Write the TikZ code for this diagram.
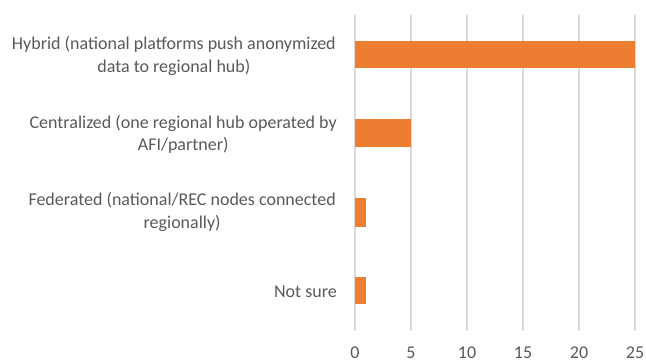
\documentclass[tikz,border=0pt]{standalone}
\usepackage{fontspec}
\setmainfont{Carlito}
\definecolor{barc}{HTML}{ED7D31}
\definecolor{gridc}{HTML}{D9D9D9}
\definecolor{txtc}{HTML}{595959}
\begin{document}
\begin{tikzpicture}[x=1pt,y=-1pt,
  bar/.style={fill=barc,draw=none},
  gridline/.style={draw=gridc,line width=1.4pt},
  catlabel/.style={anchor=east,align=center,text=txtc,inner sep=0pt,font=\fontsize{18}{22.7}\selectfont},
  ticklabel/.style={anchor=center,text=txtc,inner sep=0pt,font=\fontsize{18}{20}\selectfont}]
\useasboundingbox (0,0) rectangle (646,363);
\foreach \v in {0,5,10,15,20,25}{
  \draw[gridline] ({355+11.2*\v},15) -- ({355+11.2*\v},331);
  \node[ticklabel] (t\v) at ({355+11.2*\v},353) {\v};
}
\fill[bar] (355,40.7) rectangle ({355+11.2*25},68.3);
\fill[bar] (355,119.3) rectangle ({355+11.2*5},147.3);
\fill[bar] (355,198.3) rectangle ({355+11.2*1},226.7);
\fill[bar] (355,277) rectangle ({355+11.2*1},304.3);
\node[catlabel] (l1) at (336,56) {Hybrid (national platforms push anonymized\\data to regional hub)};
\node[catlabel] (l2) at (337,134.5) {Centralized (one regional hub operated by\\AFI/partner)};
\node[catlabel] (l3) at (336,212) {Federated (national/REC nodes connected\\regionally)};
\node[catlabel] (l4) at (337,291.5) {Not sure};
\end{tikzpicture}
\end{document}
